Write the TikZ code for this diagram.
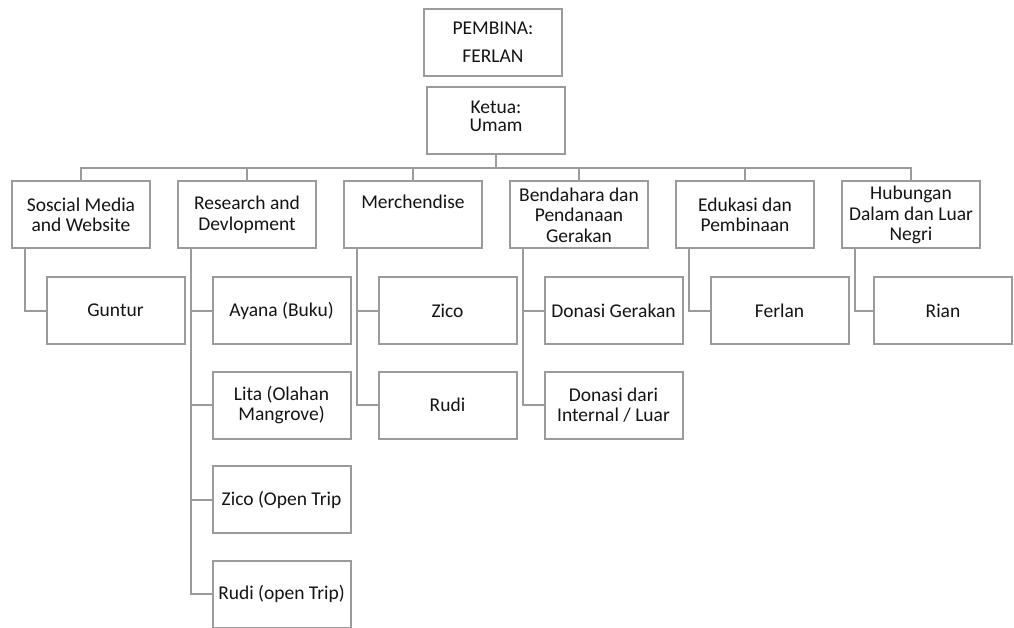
\documentclass[tikz,border=0pt]{standalone}
\usepackage{fontspec}
\setmainfont{Carlito}
\usepackage{tikz}
\usetikzlibrary{positioning}
\definecolor{boxgray}{HTML}{9B9B9B}
\definecolor{textdark}{HTML}{141414}

\begin{document}
\begin{tikzpicture}[x=1pt,y=1pt,node distance=166pt,
    box/.style={draw=boxgray,line width=2pt,minimum width=138pt,minimum height=67pt,align=center,inner sep=2pt,text=textdark,font=\fontsize{19.5}{20.5}\selectfont},
    link/.style={draw=boxgray,line width=2pt}]
    \useasboundingbox (0,0) rectangle (1014,-628);

    \node[box,font=\fontsize{19.5}{28}\selectfont] (pembina) at (493,-42.5) {PEMBINA:\\FERLAN};
    \node[box,font=\fontsize{19.5}{18}\selectfont] (ketua)   at (496,-120.5) {Ketua:\\Umam\\[-14pt]\strut};

    \node[box] (soc) at (81,-215)  {Soscial Media\\and Website};
    \node[box] (rnd) [right of=soc] {Research and\\Devlopment};
    \node[box] (mer) [right of=rnd] {Merchendise\\\strut};
    \node[box] (ben) [right of=mer] {Bendahara dan\\Pendanaan\\Gerakan};
    \node[box] (edu) [right of=ben] {Edukasi dan\\Pembinaan};
    \node[box] (hub) [right of=edu] {Hubungan\\Dalam dan Luar\\Negri};

    \node[box,below of=soc, node distance=95.5pt, xshift=34.5pt] (gun) {Guntur};
    \node[box,below of=rnd, node distance=95.5pt, xshift=34.5pt] (aya) {Ayana (Buku)};
    \node[box,below of=aya, node distance=94.5pt] (lit)   {Lita (Olahan\\Mangrove)};
    \node[box,below of=lit, node distance=94.5pt] (zicot) {Zico (Open Trip};
    \node[box,below of=zicot, node distance=94.5pt] (rudot) {Rudi (open Trip)};
    \node[box,below of=mer, node distance=95.5pt, xshift=34.5pt] (zic) {Zico};
    \node[box,below of=zic, node distance=94.5pt] (rud) {Rudi};
    \node[box,below of=ben, node distance=95.5pt, xshift=34.5pt] (don) {Donasi Gerakan};
    \node[box,below of=don, node distance=94.5pt] (dar) {Donasi dari\\Internal / Luar};
    \node[box,below of=edu, node distance=95.5pt, xshift=34.5pt] (fer) {Ferlan};
    \node[box,below of=hub, node distance=95.5pt, xshift=32pt] (ria) {Rian};

    \foreach \n in {soc,rnd,mer,ben,edu,hub}
        \draw[link] (ketua.south) -- ++(0,-13) -| (\n.north);

    \foreach \p/\c in {soc/gun,rnd/aya,rnd/lit,rnd/zicot,rnd/rudot,mer/zic,mer/rud,ben/don,ben/dar,edu/fer,hub/ria}
        \draw[link] ([xshift=14pt]\p.south west) |- (\c.west);
\end{tikzpicture}
\end{document}
